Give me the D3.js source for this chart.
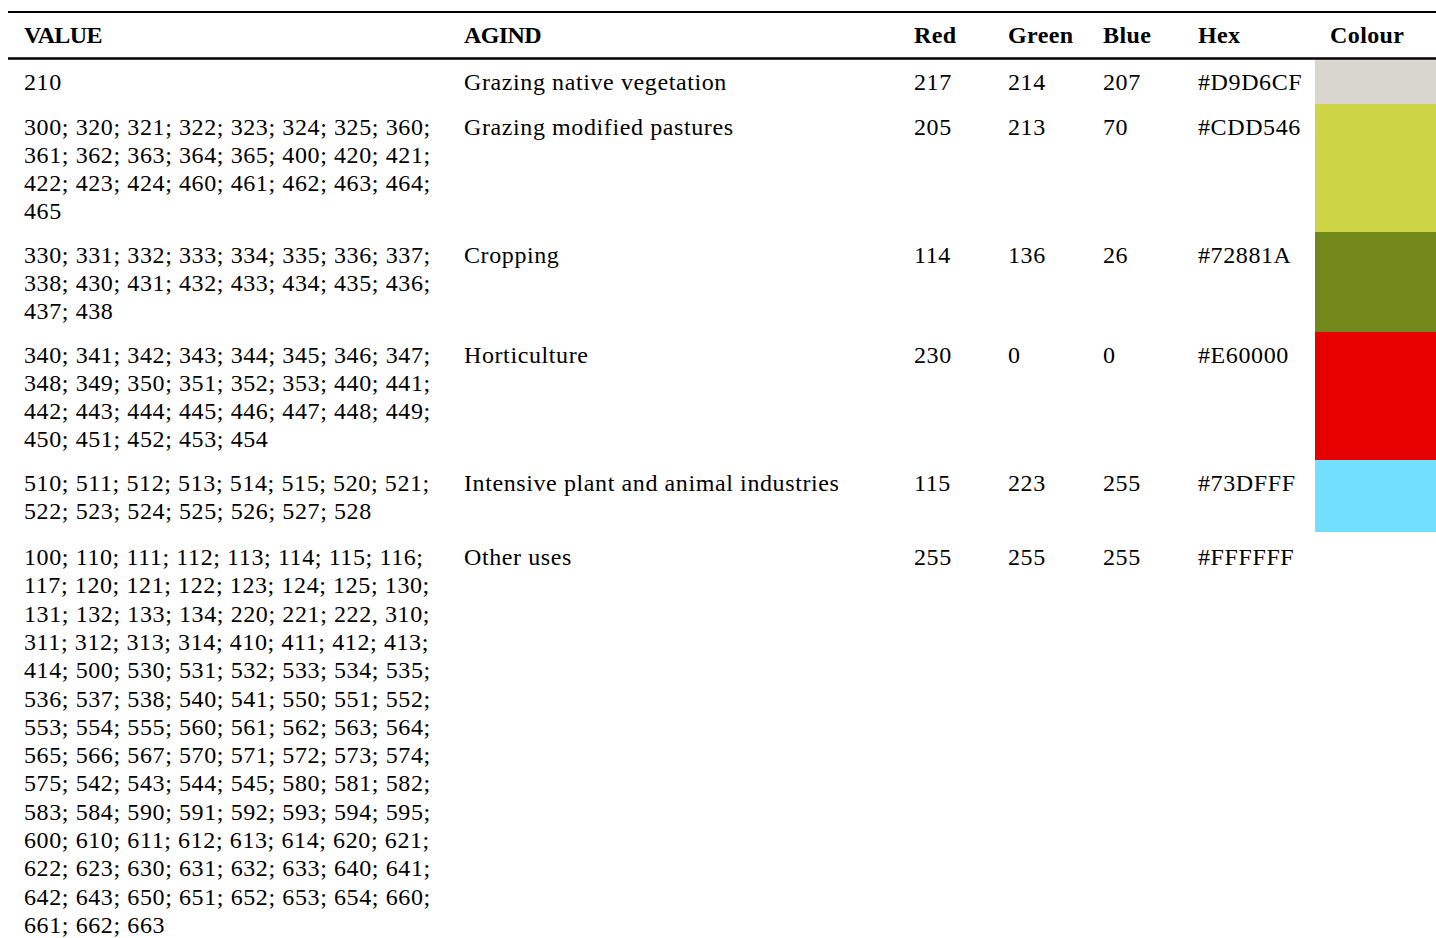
<!DOCTYPE html>
<html>
<head>
<meta charset="utf-8">
<script src="https://cdn.jsdelivr.net/npm/d3@7"></script>
<style>
  body { margin: 0; background: #fff; }
  svg text { font-family: "Liberation Serif", "DejaVu Serif", serif; fill: #000; }
</style>
</head>
<body>
<div id="table"></div>
<script>
// table content
var headers = ["VALUE", "AGIND", "Red", "Green", "Blue", "Hex", "Colour"];

var values = [
  "210",
  "300; 320; 321; 322; 323; 324; 325; 360; 361; 362; 363; 364; 365; 400; 420; 421; 422; 423; 424; 460; 461; 462; 463; 464; 465",
  "330; 331; 332; 333; 334; 335; 336; 337; 338; 430; 431; 432; 433; 434; 435; 436; 437; 438",
  "340; 341; 342; 343; 344; 345; 346; 347; 348; 349; 350; 351; 352; 353; 440; 441; 442; 443; 444; 445; 446; 447; 448; 449; 450; 451; 452; 453; 454",
  "510; 511; 512; 513; 514; 515; 520; 521; 522; 523; 524; 525; 526; 527; 528",
  "100; 110; 111; 112; 113; 114; 115; 116; 117; 120; 121; 122; 123; 124; 125; 130; 131; 132; 133; 134; 220; 221; 222, 310; 311; 312; 313; 314; 410; 411; 412; 413; 414; 500; 530; 531; 532; 533; 534; 535; 536; 537; 538; 540; 541; 550; 551; 552; 553; 554; 555; 560; 561; 562; 563; 564; 565; 566; 567; 570; 571; 572; 573; 574; 575; 542; 543; 544; 545; 580; 581; 582; 583; 584; 590; 591; 592; 593; 594; 595; 600; 610; 611; 612; 613; 614; 620; 621; 622; 623; 630; 631; 632; 633; 640; 641; 642; 643; 650; 651; 652; 653; 654; 660; 661; 662; 663"
];
var agind = ["Grazing native vegetation", "Grazing modified pastures", "Cropping",
             "Horticulture", "Intensive plant and animal industries", "Other uses"];
var reds   = [217, 205, 114, 230, 115, 255];
var greens = [214, 213, 136,   0, 223, 255];
var blues  = [207,  70,  26,   0, 255, 255];
var hexes  = ["#D9D6CF", "#CDD546", "#72881A", "#E60000", "#73DFFF", "#FFFFFF"];

// layout
var W = 1436, H = 938;
var perLine = 8;          // codes per line in the VALUE column
var headTop = 60;         // below header rule
var rowPad = 16;
var lineH = [28, 28, 28, 28, 28, 28.3];
var firstBase = [30, 31, 31, 31, 31, 33];
var fontSize = "24px";

var x = d3.scaleOrdinal()
    .domain(headers)
    .range([24, 464, 914, 1008, 1103, 1198, 1330]);

var svg = d3.select("#table")
  .append("svg")
    .attr("width", W)
    .attr("height", H);

// wrap the value lists
var rows = values.map(function(v, i) {
  var tokens = v.split(" ");
  var lines = [];
  for (var k = 0; k < tokens.length; k += perLine) lines.push(tokens.slice(k, k + perLine).join(" "));
  return {
    lines: lines, agind: agind[i], red: reds[i], green: greens[i], blue: blues[i],
    hex: hexes[i], lh: lineH[i], fb: firstBase[i]
  };
});

var yCursor = headTop;
rows.forEach(function(r) {
  r.top = yCursor;
  r.h = r.lines.length * r.lh + rowPad;
  yCursor += r.h;
});

// colour swatches
svg.selectAll("rect.swatch")
  .data(rows)
  .enter().append("rect")
    .attr("class", "swatch")
    .attr("x", 1315)
    .attr("y", function(d) { return d.top; })
    .attr("width", W - 1315)
    .attr("height", function(d) { return d.h; })
    .style("fill", function(d) { return d3.rgb(d.red, d.green, d.blue); });

// rules
svg.append("line")
  .attr("x1", 8).attr("x2", W).attr("y1", 12).attr("y2", 12)
  .style("stroke", "#000").style("stroke-width", 2.2);
svg.append("line")
  .attr("x1", 8).attr("x2", W).attr("y1", 58.5).attr("y2", 58.5)
  .style("stroke", "#000").style("stroke-width", 2.5);

// header
svg.selectAll("text.head")
  .data(headers)
  .enter().append("text")
    .attr("class", "head")
    .attr("x", function(d) { return x(d); })
    .attr("y", 43)
    .style("font-size", fontSize)
    .style("font-weight", "bold")
    .style("letter-spacing", function(d) { return d === "VALUE" || d === "AGIND" ? "-0.6px" : "0.4px"; })
    .text(function(d) { return d; });

// body rows
var g = svg.selectAll("g.row")
  .data(rows)
  .enter().append("g")
    .attr("class", "row")
    .attr("transform", function(d) { return "translate(0," + (d.top + d.fb) + ")"; });

g.selectAll("text.val")
  .data(function(d) { return d.lines.map(function(l) { return {t: l, lh: d.lh}; }); })
  .enter().append("text")
    .attr("class", "val")
    .attr("x", x("VALUE"))
    .attr("y", function(d, i) { return i * d.lh; })
    .style("font-size", fontSize)
    .style("letter-spacing", "0.6px")
    .text(function(d) { return d.t; });

var cells = [
  ["AGIND", function(d) { return d.agind; }],
  ["Red", function(d) { return d.red; }],
  ["Green", function(d) { return d.green; }],
  ["Blue", function(d) { return d.blue; }],
  ["Hex", function(d) { return d.hex; }]
];
cells.forEach(function(c) {
  g.append("text")
    .attr("x", x(c[0]))
    .attr("y", 0)
    .style("font-size", fontSize)
    .style("letter-spacing", "0.6px")
    .text(c[1]);
});
</script>
</body>
</html>
